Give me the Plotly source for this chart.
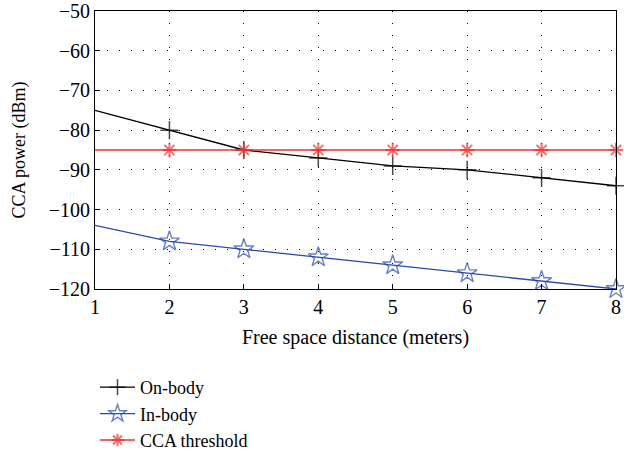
import plotly.graph_objects as go

distance = [1, 2, 3, 4, 5, 6, 7, 8]
on_body = [-75, -80, -85, -87, -89, -90, -92, -94]
in_body = [-104, -108, -110, -112, -114, -116, -118, -120]
cca_threshold = [-85, -85, -85, -85, -85, -85, -85, -85]
x_ticks = [1, 2, 3, 4, 5, 6, 7, 8]
y_ticks = [-50, -60, -70, -80, -90, -100, -110, -120]

FONT = "Liberation Serif"
msize_plus = [0] + [13] * 7
msize_star = [0] + [15] * 7
msize_ast = [0] + [12] * 7

fig = go.Figure()
fig.add_trace(go.Scatter(x=distance, y=on_body, name="On-body", mode="lines+markers",
                         line=dict(color="black", width=1.3), cliponaxis=False,
                         marker=dict(symbol="cross-thin", size=msize_plus, line=dict(color="black", width=1.5))))
fig.add_trace(go.Scatter(x=distance, y=in_body, name="In-body", mode="lines+markers",
                         line=dict(color="#2a4aa8", width=1.3), cliponaxis=False,
                         marker=dict(symbol="star-open", size=msize_star, color="#2a4aa8", line=dict(color="#2a4aa8", width=1.4))))
fig.add_trace(go.Scatter(x=distance, y=cca_threshold, name="CCA threshold", mode="lines+markers",
                         line=dict(color="#f03030", width=1.3), cliponaxis=False,
                         marker=dict(symbol="asterisk-open", size=msize_ast, color="#f03030", line=dict(color="#f03030", width=2))))

axis_common = dict(showline=True, linecolor="black", linewidth=1, mirror=True,
                   ticks="inside", ticklen=5, tickcolor="black", automargin=False,
                   ticklabeloverflow="allow",
                   showgrid=True, gridcolor="black", gridwidth=1, griddash="1px,11px",
                   zeroline=False, tickfont=dict(family=FONT, size=20, color="black"))

fig.update_xaxes(range=[1, 8], tickvals=x_ticks, **axis_common,
                 title=dict(text="Free space distance (meters)", font=dict(family=FONT, size=20, color="black"), standoff=12))
fig.update_yaxes(range=[-120, -50], tickvals=y_ticks, ticktext=["\u2212" + str(-v) for v in y_ticks], **axis_common,
                 title=dict(text="CCA power (dBm)", font=dict(family=FONT, size=18, color="black"), standoff=18))

fig.update_layout(width=624, height=452, margin=dict(l=95, r=8, t=11, b=163),
                  plot_bgcolor="white", paper_bgcolor="white",
                  font=dict(family=FONT, color="black"),
                  legend=dict(x=0.0, xref="paper", y=1 - 369 / 452, yref="container",
                              xanchor="left", yanchor="top",
                              font=dict(family=FONT, size=18, color="black"),
                              tracegroupgap=0, itemwidth=35, bgcolor="rgba(0,0,0,0)"))

fig.write_html("out.html", config={"displayModeBar": False},
               post_script="document.body.style.margin='0';document.body.style.overflow='hidden';")
